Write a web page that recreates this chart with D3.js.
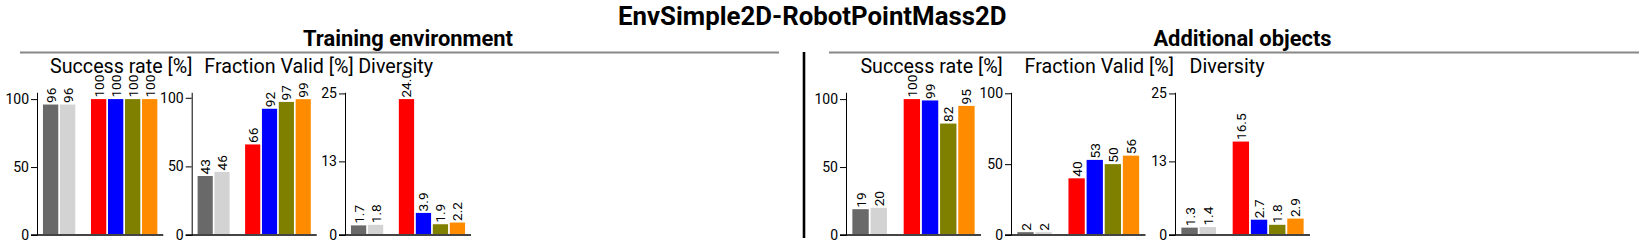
<!DOCTYPE html>
<html><head><meta charset="utf-8">
<script src="https://cdn.jsdelivr.net/npm/d3@7"></script>
<style>body{margin:0;background:#fff} svg{display:block} text{font-family:Roboto, sans-serif}</style>
</head><body><svg id="c" width="1644" height="248"></svg>
<script>
// ---- data ----
const methods = ["M1","M2","M3","M4","M5","M6"];
const colors = ["#696969","#d3d3d3","#ff0000","#0000ff","#808000","#ff8c00"];
const trainSuccess = [96,96,100,100,100,100];
const trainValid = [43,46,66,92,97,99];
const trainDiversity = [1.7,1.8,24.0,3.9,1.9,2.2];
const addSuccess = [19,20,100,99,82,95];
const addValid = [2,2,40,53,50,56];
const addDiversity = [1.3,1.4,16.5,2.7,1.8,2.9];
const pctTicks = [0,50,100];
const pctTickLabels = ["0","50","100"];
const divTicks = [0,13,25];
const divTickLabels = ["0","13","25"];
const metricTitles = ["Success rate [%]","Fraction Valid [%]","Diversity"];
const sectionTitles = ["Training environment","Additional objects"];
const mainTitle = "EnvSimple2D-RobotPointMass2D";

// ---- layout ----
const svg = d3.select("#c");
const yTop = 92.3, yBot = 235;
const G = 0.82, W = 0.9, P = 0.35;

const panels = [
  {data: trainSuccess, ticks: pctTicks, labels: pctTickLabels, ymax: 105, x0: 37, x1: 163.3, fmt: d3.format(".0f"), title: metricTitles[0], tx: 50},
  {data: trainValid, ticks: pctTicks, labels: pctTickLabels, ymax: 104, x0: 191.7, x1: 316.7, fmt: d3.format(".0f"), title: metricTitles[1], tx: 204.3},
  {data: trainDiversity, ticks: divTicks, labels: divTickLabels, ymax: 25.2, x0: 345, x1: 471, fmt: d3.format(".1f"), title: metricTitles[2], tx: 358.2},
  {data: addSuccess, ticks: pctTicks, labels: pctTickLabels, ymax: 105, x0: 846, x1: 981, fmt: d3.format(".0f"), title: metricTitles[0], tx: 860.4},
  {data: addValid, ticks: pctTicks, labels: pctTickLabels, ymax: 100.7, x0: 1011, x1: 1145.5, fmt: d3.format(".0f"), title: metricTitles[1], tx: 1024.6},
  {data: addDiversity, ticks: divTicks, labels: divTickLabels, ymax: 25.2, x0: 1175, x1: 1310, fmt: d3.format(".1f"), title: metricTitles[2], tx: 1189.6}
];

// titles
svg.append("text").attr("x", 812.3).attr("y", 25).attr("text-anchor","middle")
  .attr("font-size", 25.8).attr("font-weight","bold").text(mainTitle);
svg.append("text").attr("x", 408).attr("y", 45.5).attr("text-anchor","middle")
  .attr("font-size", 21.9).attr("font-weight","bold").text(sectionTitles[0]);
svg.append("text").attr("x", 1242.5).attr("y", 45.5).attr("text-anchor","middle")
  .attr("font-size", 21.9).attr("font-weight","bold").text(sectionTitles[1]);
svg.append("line").attr("x1",20).attr("x2",779).attr("y1",52.5).attr("y2",52.5).attr("stroke","#888").attr("stroke-width",2);
svg.append("line").attr("x1",829).attr("x2",1639).attr("y1",52.5).attr("y2",52.5).attr("stroke","#888").attr("stroke-width",2);
svg.append("line").attr("x1",804).attr("x2",804).attr("y1",52).attr("y2",238).attr("stroke","#000").attr("stroke-width",2.6);

panels.forEach(p => {
  const g = svg.append("g");
  const y = d3.scaleLinear().domain([0, p.ymax]).range([yBot, yTop]);
  const x = d3.scaleLinear().domain([-P, 5 + G + W + P]).range([p.x0, p.x1]);
  const u = i => i + (i >= 2 ? G : 0);

  g.append("text").attr("x", p.tx).attr("y", 72.5).attr("font-size", 19.7).text(p.title);

  g.selectAll("rect.bar").data(p.data).join("rect").attr("class","bar")
    .attr("x", (d,i) => x(u(i)))
    .attr("width", (d,i) => x(u(i) + W) - x(u(i)))
    .attr("y", d => y(d))
    .attr("height", d => y(0) - y(d))
    .attr("fill", (d,i) => colors[i]);

  g.selectAll("text.val").data(p.data).join("text").attr("class","val")
    .attr("transform", (d,i) => `translate(${x(u(i) + W/2)},${y(d) - 1.5}) rotate(-90)`)
    .attr("text-anchor","start").attr("dominant-baseline","central")
    .attr("font-size", 13.7).attr("fill","#000").text(d => p.fmt(d));

  // x baseline
  g.append("line").attr("x1", x.range()[0] - 6).attr("x2", x.range()[1])
    .attr("y1", y(0)).attr("y2", y(0)).attr("stroke","#444").attr("stroke-width",2);

  const ax = g.append("g").attr("transform", `translate(${p.x0},0)`)
    .call(d3.axisLeft(y).tickValues(p.ticks).tickFormat((d,i) => p.labels[i]).tickSize(6).tickSizeOuter(0).tickPadding(2));
  ax.selectAll("text").attr("font-size", 14).attr("font-family","Roboto, sans-serif").attr("fill","#000");
  ax.selectAll("line,path").attr("stroke","#000");
});
</script></body></html>
